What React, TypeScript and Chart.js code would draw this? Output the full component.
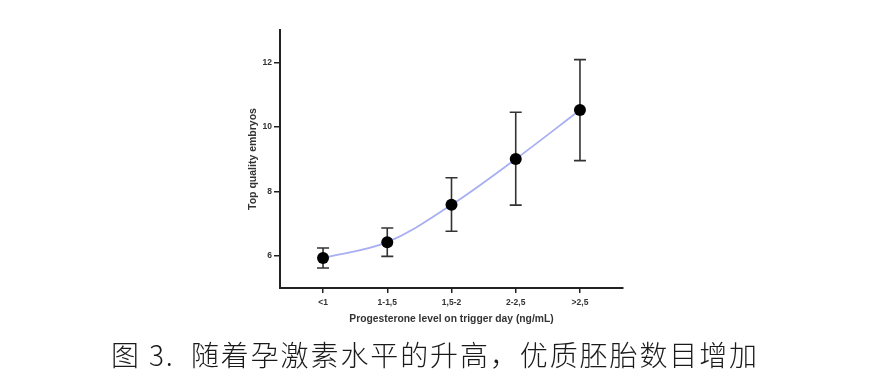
import React, { useEffect, useRef } from "react";
import { Chart, registerables } from "chart.js";

Chart.register(...registerables);

const categories = ["<1", "1-1,5", "1,5-2", "2-2,5", ">2,5"];
const means = [5.93, 6.42, 7.58, 9.0, 10.52];
const errLow = [5.62, 5.98, 6.76, 7.57, 8.95];
const errHigh = [6.24, 6.86, 8.42, 10.45, 12.08];
const yTicks = [6, 8, 10, 12];

const caption = "图 3.  随着孕激素水平的升高，优质胚胎数目增加";

const errorBarPlugin = {
  id: "errorBars",
  beforeDatasetsDraw(chart: any) {
    const ctx = chart.ctx;
    const xs = chart.scales.x;
    const ys = chart.scales.y;
    ctx.save();
    ctx.strokeStyle = "#333333";
    ctx.lineWidth = 1.6;
    for (let i = 0; i < categories.length; i++) {
      const x = xs.getPixelForValue(i);
      const yl = ys.getPixelForValue(errLow[i]);
      const yh = ys.getPixelForValue(errHigh[i]);
      ctx.beginPath();
      ctx.moveTo(x, yl);
      ctx.lineTo(x, yh);
      ctx.moveTo(x - 6, yl);
      ctx.lineTo(x + 6, yl);
      ctx.moveTo(x - 6, yh);
      ctx.lineTo(x + 6, yh);
      ctx.stroke();
    }
    ctx.restore();
  },
};

export default function App() {
  const ref = useRef<HTMLCanvasElement | null>(null);
  useEffect(() => {
    if (!ref.current) return;
    const chart = new Chart(ref.current, {
      type: "line",
      data: {
        datasets: [
          {
            data: means.map((m, i) => ({ x: i, y: m })),
            borderColor: "rgb(168,175,242)",
            borderWidth: 1.8,
            tension: 0.35,
            pointRadius: 6,
            pointBackgroundColor: "#000000",
            pointBorderColor: "#000000",
            pointBorderWidth: 0,
          },
        ],
      },
      options: {
        animation: false,
        responsive: false,
        maintainAspectRatio: false,
        layout: { padding: { left: 230, right: 247, top: 30, bottom: 45 } },
        plugins: { legend: { display: false }, tooltip: { enabled: false } },
        scales: {
          x: {
            type: "linear",
            min: -0.67,
            max: 4.67,
            afterBuildTicks: (axis: any) => {
              axis.ticks = categories.map((_, i) => ({ value: i }));
            },
            afterFit: (axis: any) => {
              axis.height = 45;
            },
            ticks: {
              autoSkip: false,
              maxRotation: 0,
              padding: 5,
              color: "#333",
              font: { family: "Liberation Sans", size: 8.5, weight: "bold" },
              callback: (v: any) => categories[Math.round(Number(v))] ?? "",
            },
            grid: { drawOnChartArea: false, tickLength: 5, color: "#222", lineWidth: 1.5 },
            border: { display: true, color: "#222", width: 2 },
            title: {
              display: true,
              text: "Progesterone level on trigger day (ng/mL)",
              color: "#333",
              font: { family: "Liberation Sans", size: 10.3, weight: "bold" },
              padding: { top: 8, bottom: 8 },
            },
          },
          y: {
            type: "linear",
            min: 5,
            max: 13,
            afterBuildTicks: (axis: any) => {
              axis.ticks = yTicks.map((v) => ({ value: v }));
            },
            afterFit: (axis: any) => {
              axis.width = 50;
            },
            ticks: {
              padding: 2,
              color: "#333",
              font: { family: "Liberation Sans", size: 8.5, weight: "bold" },
            },
            grid: { drawOnChartArea: false, tickLength: 6, color: "#222", lineWidth: 1.5 },
            border: { display: true, color: "#222", width: 2 },
            title: {
              display: true,
              text: "Top quality embryos",
              color: "#333",
              font: { family: "Liberation Sans", size: 10.5, weight: "bold" },
              padding: { top: 17, bottom: 17 },
            },
          },
        },
      },
      plugins: [errorBarPlugin],
    } as any);
    return () => chart.destroy();
  }, []);

  return (
    <div style={{ position: "absolute", left: 0, top: 0, width: 870, height: 378, background: "#fff" }}>
      <canvas ref={ref} width={870} height={378} style={{ position: "absolute", left: 0, top: 0, width: 870, height: 378 }} />
      <div
        style={{
          position: "absolute",
          left: 0,
          top: 336,
          width: 870,
          textAlign: "center",
          fontFamily: "'Noto Sans CJK SC', sans-serif",
          fontSize: 28,
          fontWeight: 300,
          lineHeight: "36px",
          letterSpacing: "1.9px",
          color: "#1a1a1a",
          whiteSpace: "pre",
        }}
      >
        {caption}
      </div>
    </div>
  );
}
